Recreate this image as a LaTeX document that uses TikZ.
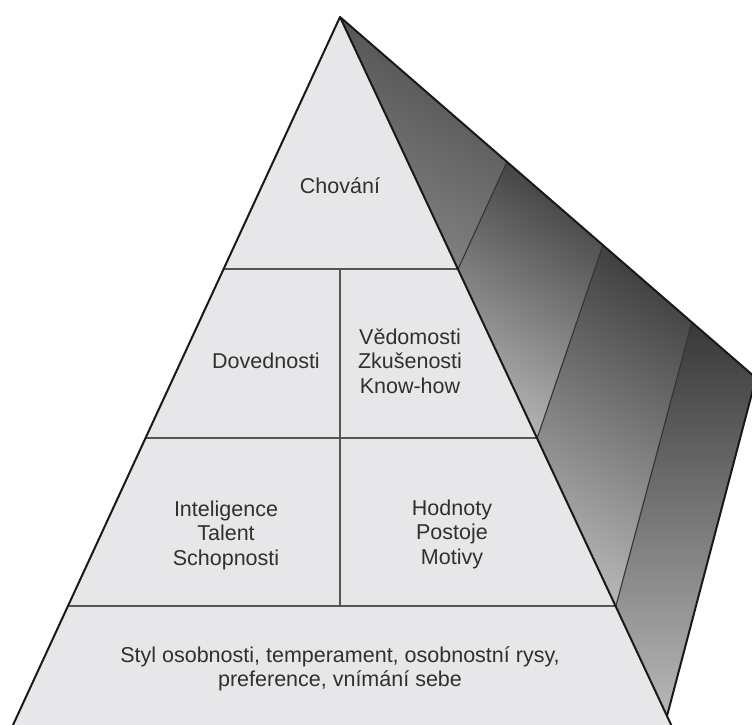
\documentclass[tikz,border=0pt]{standalone}
\usepackage{fontspec}
\setmainfont{Liberation Sans}
\usetikzlibrary{calc}
\definecolor{facefill}{RGB}{231,231,233}
\definecolor{txtcol}{RGB}{48,48,48}
\definecolor{divcol}{RGB}{85,85,85}
\tikzset{
  outline/.style={draw=black!90, line width=2pt, line join=round},
  divider/.style={draw=divcol, line width=1.4pt},
  sidediv/.style={draw=black!80, line width=1.1pt},
  label/.style={inner sep=0pt, anchor=base, text=txtcol,
    font=\fontsize{21.5}{24.5}\selectfont},
  band/.style={shading=axis, top color=black!74, bottom color=black!30, shading angle=-30}
}
\begin{document}
\begin{tikzpicture}[x=1pt,y=-1pt]
\useasboundingbox (0,0) rectangle (752,725);
\clip (0,0) rectangle (752,725);
% key points
\coordinate (A) at (340,17);
\coordinate (FL) at (13,725);
\coordinate (FR) at (671.2,725);
\coordinate (B) at (667,716);
\coordinate (T) at (756,378);
\coordinate (L1) at (223.6,269);
\coordinate (R1) at (458.1,269);
\coordinate (L2) at (145.5,438);
\coordinate (R2) at (537.2,438);
\coordinate (L3) at (67.9,606);
\coordinate (R3) at (615.9,606);
\coordinate (M1) at (340,269);
\coordinate (M3) at (340,606);
\coordinate (Q1) at (507,162);
\coordinate (Q2) at (603,245);
\coordinate (Q3) at (692,322);
% front face
\fill[facefill] (A) -- (FL) -- (FR) -- cycle;
% side face bands
\shade[shading=axis, top color=black!70, bottom color=black!48, shading angle=-30] (A) -- (R1) -- (Q1) -- cycle;
\shade[band] (Q1) -- (R1) -- (R2) -- (Q2) -- cycle;
\shade[band] (Q2) -- (R2) -- (R3) -- (Q3) -- cycle;
\shade[band, top color=black!78, bottom color=black!28] (Q3) -- (R3) -- (B) -- (T) -- cycle;
% dividers
\draw[divider] (L1) -- (R1);
\draw[divider] (L2) -- (R2);
\draw[divider] (L3) -- (R3);
\draw[divider] (M1) -- (M3);
\draw[sidediv] (R1) -- (Q1);
\draw[sidediv] (R2) -- (Q2);
\draw[sidediv] (R3) -- (Q3);
% outlines
\draw[outline] (FL) -- (A) -- (FR);
\draw[outline] (A) -- (T) -- (B);
% labels
\node[label] (chovani) at (340,193) {Chování};
\node[label] (dovednosti) at (266,368) {Dovednosti};
\node[label] (vedomosti) at (410,344) {\begin{tabular}[t]{@{}c@{}}Vědomosti\\Zkušenosti\\Know-how\end{tabular}};
\node[label] (inteligence) at (226,516) {\begin{tabular}[t]{@{}c@{}}Inteligence\\Talent\\Schopnosti\end{tabular}};
\node[label] (hodnoty) at (452,515) {\begin{tabular}[t]{@{}c@{}}Hodnoty\\Postoje\\Motivy\end{tabular}};
\node[label] (styl) at (340,662) {\begin{tabular}[t]{@{}c@{}}Styl osobnosti, temperament, osobnostní rysy,\\preference, vnímání sebe\end{tabular}};
\end{tikzpicture}
\end{document}
